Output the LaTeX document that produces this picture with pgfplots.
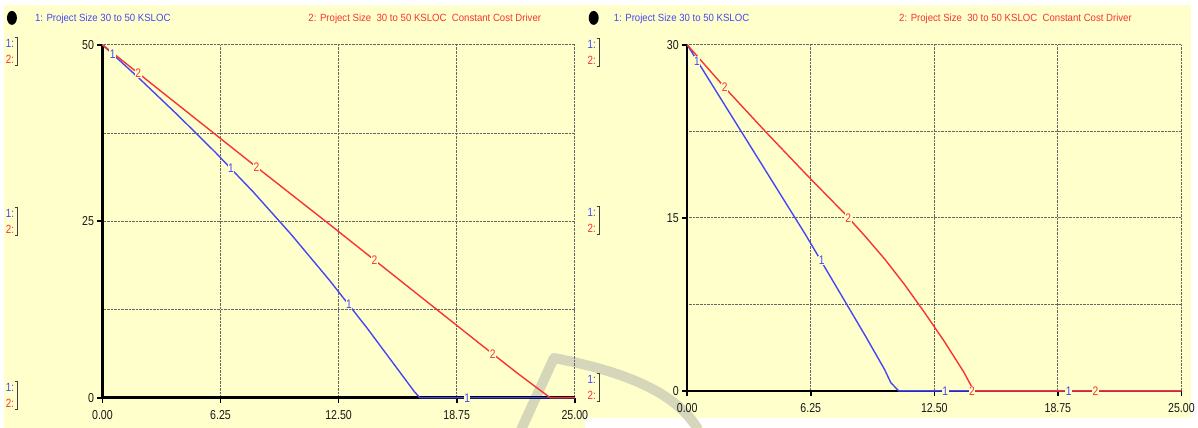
\documentclass[border=0pt]{standalone}
\usepackage{fontspec}
\setmainfont{Liberation Sans}
\newfontfamily\narrowfont[FakeStretch=0.82]{Liberation Sans}
\newfontfamily\legfont[FakeStretch=0.92]{Liberation Sans}
\usepackage{pgfplots}
\pgfplotsset{compat=1.18}
\definecolor{bgy}{RGB}{255,255,204}
\definecolor{lblue}{RGB}{70,70,245}
\definecolor{lred}{RGB}{250,50,50}
\definecolor{wm}{RGB}{214,214,186}

\pgfplotsset{stella/.style={
  scale only axis, axis lines=left, axis line style={-, black, line width=2.6pt},
  tick align=outside, major tick length=5pt, tick style={black, line width=1.6pt},
  minor tick length=0pt,
  grid=both,
  major grid style={densely dotted, black!60, line width=0.9pt},
  minor grid style={densely dotted, black!60, line width=0.9pt},
  xmin=0, xmax=25, xtick={0,6.25,12.5,18.75,25},
  xticklabels={0.00,6.25,12.50,18.75,25.00},
  ticklabel style={font=\narrowfont\fontsize{13}{13}\selectfont, text=black!90},
  xticklabel style={yshift=-4pt},
  clip=false,
  bl/.style={lblue, line width=1.4pt},
  rd/.style={lred, line width=1.4pt},
  lab/.style={only marks, mark=text, text mark={##1}, text mark as node=true,
     text mark style={font=\narrowfont\fontsize{12.5}{13}\selectfont, fill=bgy, inner sep=0.5pt}},
}}

\begin{document}
\begin{tikzpicture}
\begin{scope}[x=1pt,y=-1pt]
\path[use as bounding box] (0,0) rectangle (1198,430);
\fill[white] (0,0) rectangle (1198,430);
\fill[bgy] (4,5) rectangle (588,430);
\fill[bgy] (588,5) rectangle (1198,420);
% watermark stroke
\draw[wm, line width=10pt, line cap=butt, line join=round] (524,432) -- (557,360) .. controls (630,374) and (680,395) .. (702,432);
% icons
\fill[black] (12,18) ellipse (5 and 7);
\fill[black] (597,18) ellipse (5 and 7);
% legend texts
\node[anchor=west, text=lblue, font=\legfont\fontsize{10.5}{11}\selectfont, inner sep=0] at (35,19) {1: Project Size 30 to 50 KSLOC};
\node[anchor=west, text=lred, font=\legfont\fontsize{10.5}{11}\selectfont, inner sep=0] at (310,19) {2: Project Size\ \ 30 to 50 KSLOC\ \ Constant Cost Driver};
\node[anchor=west, text=lblue, font=\legfont\fontsize{10.5}{11}\selectfont, inner sep=0] at (617,19) {1: Project Size 30 to 50 KSLOC};
\node[anchor=west, text=lred, font=\legfont\fontsize{10.5}{11}\selectfont, inner sep=0] at (904,19) {2: Project Size\ \ 30 to 50 KSLOC\ \ Constant Cost Driver};
% scale markers
\foreach \xx/\yy in {10/52, 10/223, 10/398, 595/53, 595/222, 595/390}{
  \node[text=lblue, font=\narrowfont\fontsize{12}{12}\selectfont, inner sep=0] at (\xx,\yy-8) {1:};
  \node[text=lred, font=\narrowfont\fontsize{12}{12}\selectfont, inner sep=0] at (\xx,\yy+8) {2:};
  \draw[black!75, line width=1.1pt] (\xx+5,\yy-14) -- (\xx+8,\yy-14) -- (\xx+8,\yy+14) -- (\xx+5,\yy+14);
}
\end{scope}

% ---------- left panel ----------
\begin{axis}[stella, at={(103pt,-45pt)}, anchor=north west, width=475pt, height=355pt,
  ymin=0, ymax=50, ytick={0,25,50}, yticklabels={0,25,50}, minor ytick={12.5,37.5}]
\addplot[bl] coordinates {(0,50) (2,45.1) (4,40.0) (6,34.7) (8,29.1) (10,23.1) (12,16.7) (14,9.9) (15,6.3) (16,2.7) (16.5,0.9) (16.8,0) (25,0)};
\addplot[rd] coordinates {(0,50) (4,41.5) (8,33.0) (12,24.6) (16,16.1) (20,7.6) (22,3.4) (23.7,0) (25,0)};
\addplot[lab=1, lblue] coordinates {(0.55,48.7) (6.8,32.5) (13.05,13.2) (19.3,0)};
\addplot[lab=2, lred] coordinates {(1.9,46.0) (8.15,32.7) (14.4,19.5) (20.65,6.2)};
\end{axis}

% ---------- right panel ----------
\begin{axis}[stella, at={(691pt,-45pt)}, anchor=north west, width=497pt, height=348pt,
  ymin=0, ymax=30, ytick={0,15,30}, yticklabels={0,15,30}, minor ytick={7.5,22.5}]
\addplot[bl] coordinates {(0,30) (2,24.5) (4,19.0) (6,13.5) (8,7.7) (9,4.8) (10,1.8) (10.3,0.7) (10.7,0) (25,0)};
\addplot[rd] coordinates {(0,30) (2,26.1) (4,22.4) (6,18.8) (8,15.3) (9,13.4) (10,11.4) (11,9.2) (12,6.8) (13,4.3) (14,1.6) (14.5,0) (25,0)};
\addplot[lab=1, lblue] coordinates {(0.5,28.6) (6.8,11.3) (13.05,0) (19.3,0)};
\addplot[lab=2, lred] coordinates {(1.9,26.3) (8.15,15.0) (14.4,0) (20.65,0)};
\end{axis}
\end{tikzpicture}
\end{document}
